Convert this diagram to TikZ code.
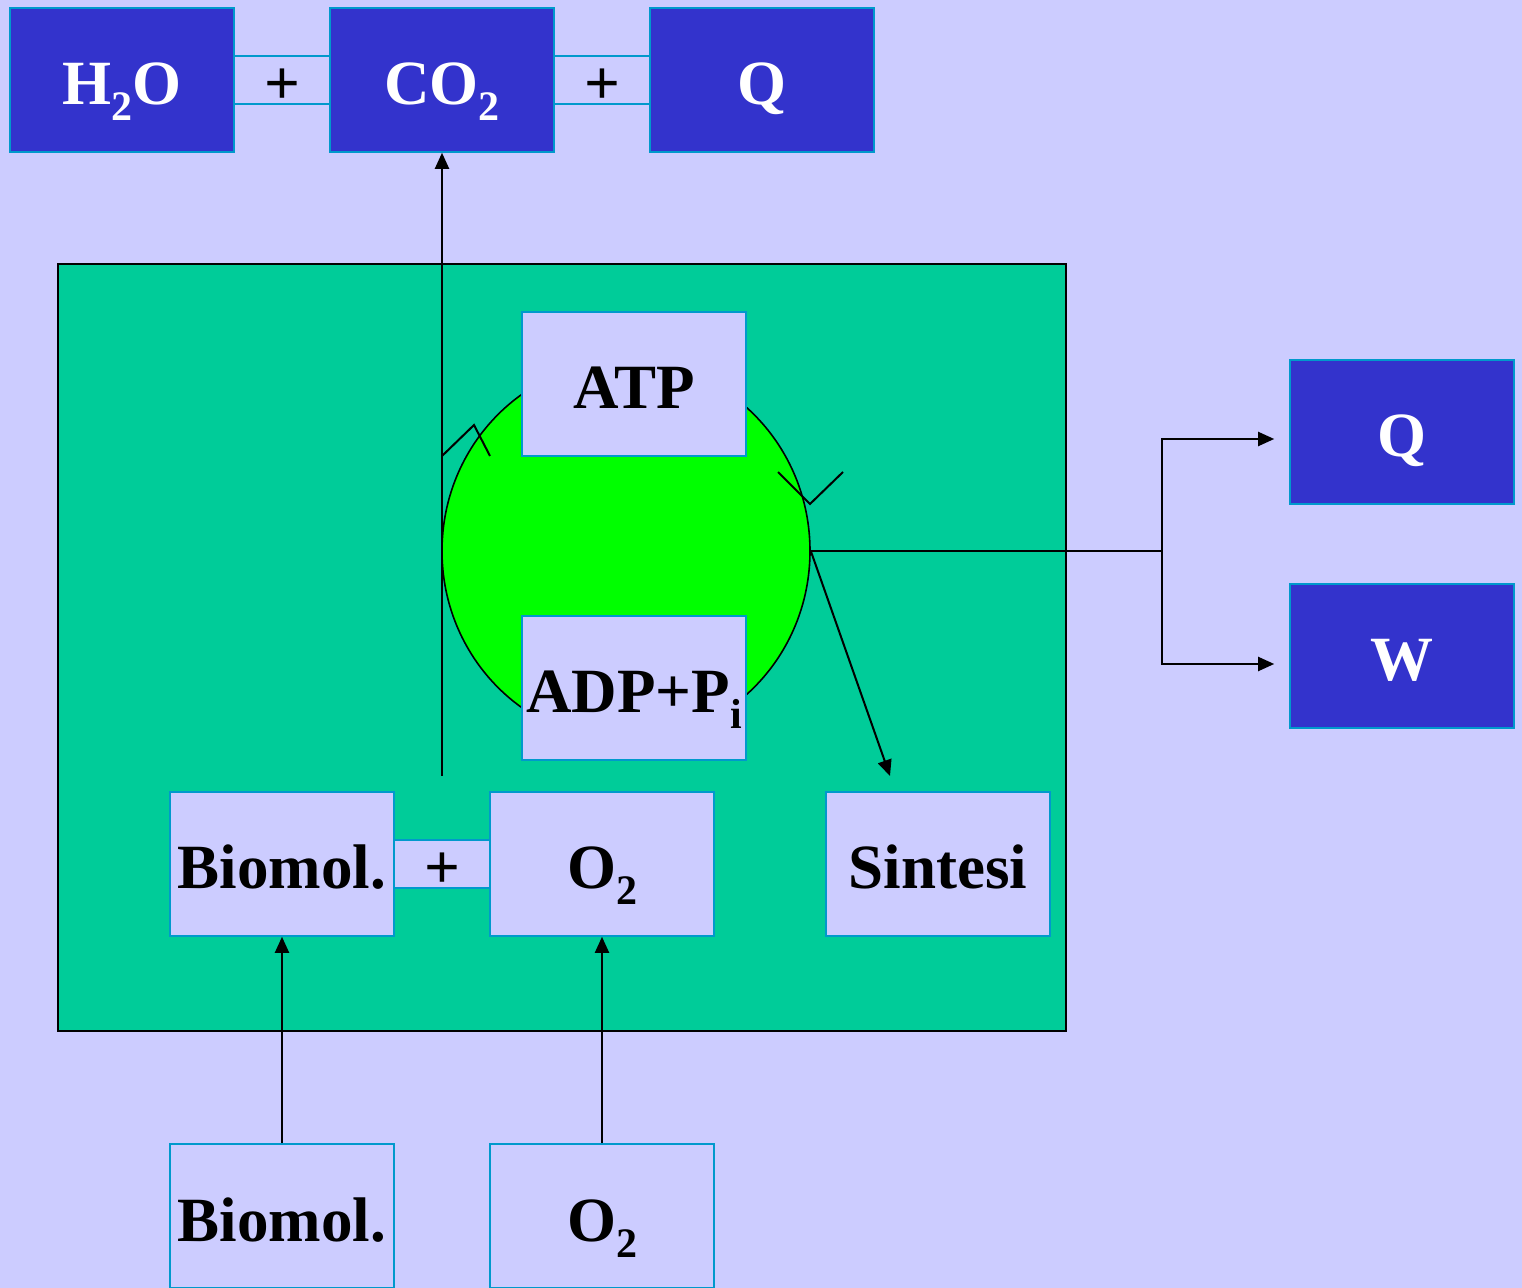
\documentclass[tikz,border=0pt]{standalone}
\usepackage{fontspec}
\setmainfont{Liberation Serif}
\usetikzlibrary{shapes.geometric, arrows.meta, positioning, calc}
\definecolor{SlideLilac}{RGB}{204, 204, 255}
\definecolor{SlideBlue}{RGB}{51, 51, 204}
\definecolor{SlideCyan}{RGB}{0, 153, 204}
\definecolor{CellGreen}{RGB}{0, 204, 153}
\definecolor{CycleGreen}{RGB}{0, 255, 0}
\newcommand{\chemsub}[1]{\raisebox{-8pt}{\fontsize{21}{21}\selectfont #1}}
\newcommand{\plussign}{\raisebox{-12.5pt}{+}}

\tikzset{
  bluebox/.style={
    rectangle, fill=SlideBlue, draw=SlideCyan, line width=0.8pt,
    minimum width=112pt, minimum height=72pt, inner sep=0pt,
    text height=25pt, text depth=0pt,
    text=white, font=\fontsize{31.5}{32}\selectfont\bfseries
  },
  lilacbox/.style={
    bluebox, fill=SlideLilac, text=black
  },
  plusbox/.style={
    lilacbox, minimum width=48pt, minimum height=24pt,
    text height=0pt, text depth=0pt
  },
  flow/.style={draw=black, line width=1pt},
  flowarrow/.style={flow, -{Triangle[length=8pt, width=7pt]}}
}

\begin{document}
\begin{tikzpicture}[x=0.5pt, y=-0.5pt]
  % slide background
  \fill[SlideLilac] (0,0) rectangle (1522,1288);
  \useasboundingbox (0,0) rectangle (1522,1288);

  % the cell
  \draw[fill=CellGreen, line width=1pt] (58,264) rectangle (1066,1031);
  \node[ellipse, fill=CycleGreen, draw=black, line width=0.8pt,
        minimum width=184pt, minimum height=190pt, inner sep=0pt] (cycle) at (626,551) {};

  % products on top
  \node[bluebox] (water) at (122,80) {H\chemsub{2}O};
  \node[plusbox] (plusA) at (282,80) {\plussign};
  \node[bluebox] (carbon) at (442,80) {CO\chemsub{2}};
  \node[plusbox] (plusB) at (602,80) {\plussign};
  \node[bluebox] (heatTop) at (762,80) {Q};

  % oxidation rises through the cell
  \coordinate (rise) at (442,776);
  \draw[flowarrow] (rise) -- (carbon.south);

  % ATP / ADP cycle
  \node[lilacbox] (atp) at (634,384) {ATP};
  \node[lilacbox] (adp) at (634,688) {ADP+P\chemsub{i}};
  \draw[flow] (442,456) -- (474,425) -- (490,456);
  \draw[flow] (778,472) -- (810,504) -- (843,472);

  % reactants inside the cell
  \node[lilacbox] (bioIn) at (282,864) {Biomol.};
  \node[plusbox] (plusC) at (442,864) {\plussign};
  \node[lilacbox] (oxIn) at (602,864) {O\chemsub{2}};
  \node[lilacbox] (synth) at (938,864) {Sintesi};

  % reactants from outside
  \node[lilacbox] (bioOut) at (282,1216) {Biomol.};
  \node[lilacbox] (oxOut) at (602,1216) {O\chemsub{2}};
  \draw[flowarrow] (bioOut.north) -- (bioIn.south);
  \draw[flowarrow] (oxOut.north) -- (oxIn.south);

  % energy out
  \node[bluebox] (heatR) at (1402,432) {Q};
  \node[bluebox] (work) at (1402,656) {W};
  \coordinate (split) at (1162,551);
  \coordinate (synthTip) at (890,776);
  \draw[flow] (cycle.east) -- (split);
  \draw[flowarrow, shorten >=7.5pt] (split) |- ($(heatR.west)+(0,7)$);
  \draw[flowarrow, shorten >=7.5pt] (split) |- ($(work.west)+(0,8)$);
  \draw[flowarrow] (cycle.east) -- (synthTip);
\end{tikzpicture}
\end{document}
